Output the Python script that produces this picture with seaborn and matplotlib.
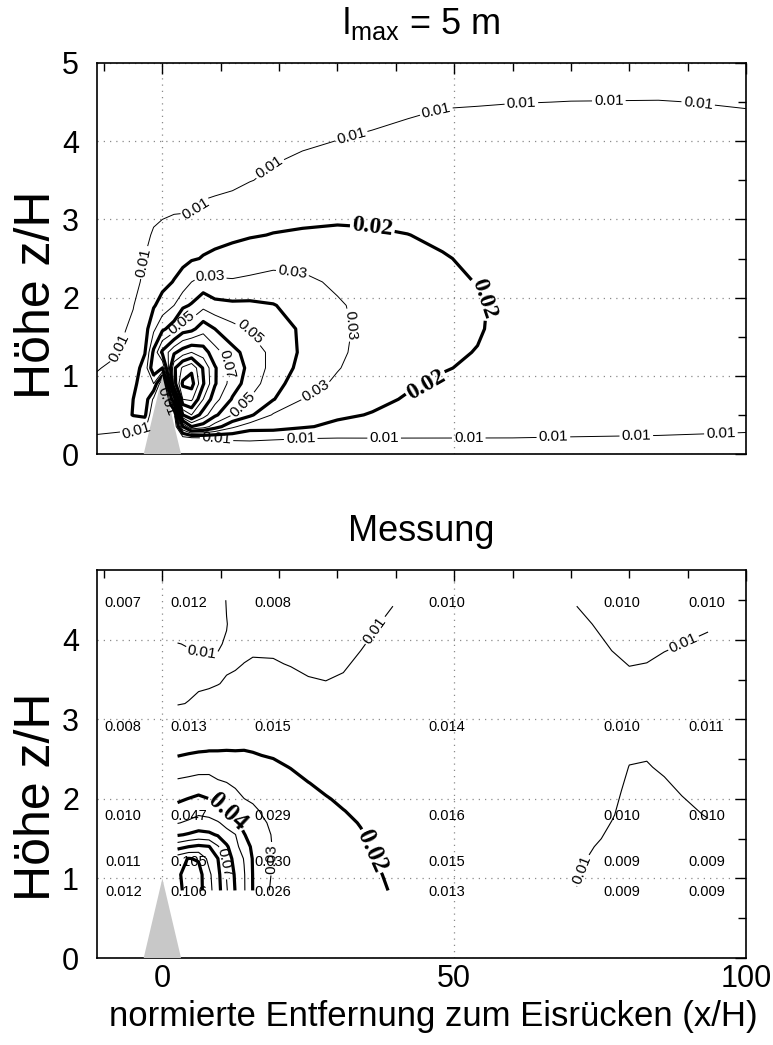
import numpy as np
import matplotlib
matplotlib.use("Agg")
import matplotlib.pyplot as plt
import seaborn as sns
from matplotlib.ticker import MultipleLocator

# ---------------- top panel: model field, concentration in 1/1000 ----------------
top_x = [-11.2, -8, -5, -3, -1.5, 0, 2, 3.5, 5, 7, 9, 12, 15, 19, 24, 30, 36, 42, 48, 54, 60, 70, 85, 100]
top_z = [0, 0.1, 0.2, 0.35, 0.5, 0.7, 0.9, 1.1, 1.3, 1.6, 1.9, 2.2, 2.5, 2.8, 3.1, 3.5, 4.0, 4.5, 5.0]
top_profiles = [
    [2, 6, 9.5, 11, 11.5, 11.5, 11, 9.7, 9, 8, 7, 6.5, 6, 5.5, 5, 4.5, 4, 3.5, 3],
    [2, 5, 8.5, 11.5, 13, 13.5, 13, 11, 9.5, 8.5, 7.5, 7, 6.5, 6, 5.5, 5, 4.5, 3.5, 3],
    [1, 3, 6, 12, 20.5, 20, 17, 15, 13, 11, 9.8, 8.5, 7.5, 6.5, 6, 5.5, 4.5, 4, 3],
    [0, 2, 6, 12, 22, 26, 27, 24, 19.5, 16, 13, 11, 10.1, 9, 8, 6.5, 5, 4, 3],
    [0, 0, 0, 0, 0, 8, 30, 48, 42, 28, 19, 15, 12.5, 10.5, 9, 7, 5, 4, 3],
    [0, 0, 0, 0, 0, 0, 0, 40, 62, 38, 24, 17, 14, 11, 9.5, 7, 5, 4, 3],
    [0, 0, 0, 0, 5, 50, 95, 98, 78, 45, 30, 20.5, 16, 13, 9.6, 7, 5, 4, 3],
    [0, 1, 5, 40, 80, 110, 122, 112, 85, 55, 38, 24, 17.5, 13.5, 9.7, 7, 5, 4, 3],
    [0.5, 2, 7, 60, 90, 112, 124, 118, 90, 57, 41, 30, 19, 15, 9.8, 7, 5, 4, 3],
    [1, 3, 8, 55, 75, 90, 101, 99, 85, 66, 47, 34, 20.5, 17, 11.5, 7.5, 5.5, 4.5, 3.5],
    [2, 4, 9, 45, 62, 74, 81, 81, 74, 60, 43, 32, 22, 17, 12, 8, 6, 4.5, 4],
    [3, 5, 12, 32, 50, 59, 65, 67, 63, 53, 42, 31, 24, 18, 13, 8.5, 6.5, 5, 4],
    [3, 6, 12, 24, 42, 49.5, 55, 57, 56, 49, 42, 32, 25, 19.3, 14, 9.8, 7.5, 6, 4.5],
    [3, 6, 11, 24, 29, 40.5, 44, 46.5, 47, 45, 40.5, 33, 27, 20.3, 17, 11, 8.5, 6.5, 5],
    [3, 6, 10.2, 21, 25, 30, 34, 37, 38.5, 38.5, 36, 32, 27, 20.8, 18, 13, 9, 7, 5],
    [3, 6, 9.8, 18, 21.5, 25, 28.5, 30.5, 31.5, 32, 31, 28.5, 25.5, 21.5, 18, 14.5, 10.1, 7, 5],
    [4, 7, 9.9, 15, 19.5, 22, 24, 25.5, 26.5, 27, 27, 26, 24, 21, 18, 15, 11, 7.5, 5.5],
    [4, 7, 9.9, 14, 16.5, 19.3, 21, 22.5, 23.5, 24, 24, 23.5, 22, 20.1, 18, 15.5, 12, 8.5, 6.5],
    [4, 7, 9.9, 13.5, 15.5, 17.5, 19.3, 20.3, 21, 22, 22, 21.5, 20.4, 19, 17, 15, 12.5, 9.5, 7.5],
    [4, 7, 9.9, 13, 15, 17, 18.5, 19.3, 19.8, 20.5, 20.7, 19.8, 19, 17.5, 16, 14.5, 12.5, 9.7, 8],
    [4, 7, 9.9, 12.5, 14.5, 16, 17, 17.5, 18, 18, 18, 17.5, 17, 16, 15, 14, 12.5, 9.9, 8],
    [4, 7, 9.7, 12, 13.5, 15, 16, 16.5, 16.5, 16.5, 16, 16, 15.5, 15, 14.5, 13.5, 12, 10.05, 8],
    [5, 7, 9.5, 11.5, 12.5, 13.5, 14.5, 15, 15, 15, 15, 15, 15, 14.5, 14, 13, 11.5, 10.1, 8],
    [5, 7, 9, 11, 12, 13, 14, 14, 14, 14, 14, 14, 14, 13, 13, 12, 11, 9.8, 7],
]

# ---------------- bottom panel: measurement (interpolated field as in the figure) ----------------
meas_left_x = [2.6, 4.5, 6.2, 8.0, 9.5, 11, 12.5, 14, 15.5, 17, 19, 22, 25, 28, 31, 34, 37, 39.5]
meas_left_z = [0.85, 1.05, 1.25, 1.4, 1.55, 1.7, 1.85, 2.0, 2.2, 2.4, 2.6, 2.8, 3.0, 3.2, 3.45, 3.7, 3.95, 4.2, 4.5]
meas_left_profiles = [
    [97, 98, 96, 76, 59, 49.5, 43.5, 38.5, 32, 24.5, 18, 15, 12, 9.8, 9.3, 9.5, 9.95, 11, 12],
    [104, 105, 100.5, 80, 61, 51.5, 45.5, 40.3, 33, 25.5, 19, 15.5, 12.5, 10.1, 9.4, 9.6, 10.1, 11, 12],
    [104, 104, 99, 82, 63, 54, 47.5, 42, 34, 26.5, 19.7, 16, 13, 10.6, 9.6, 9.75, 10.2, 11, 12],
    [93, 92, 87, 80.5, 62, 53, 46.5, 40.1, 33.5, 27, 20.1, 16.2, 13.3, 10.9, 9.7, 9.8, 10.15, 11, 11.5],
    [84, 83, 80.2, 71, 59, 51, 43, 37.5, 31, 26.5, 20.1, 16.5, 13.8, 11.5, 9.9, 9.85, 10.1, 10.9, 11],
    [71, 69.5, 66, 61.5, 53.5, 47, 40.2, 35.5, 30.2, 25.5, 20.2, 16.8, 14, 12, 10.3, 9.6, 9.9, 10.05, 9.9],
    [59.5, 58.5, 56, 53, 50.3, 42, 36.5, 33, 28.5, 24.5, 20.1, 17, 14.2, 12.3, 10.8, 9.6, 9.5, 9.5, 9],
    [51, 50.8, 49.5, 45, 40.5, 37, 33.5, 30.1, 27, 23.5, 20.2, 17, 14.5, 12.7, 11.2, 10.05, 9, 8.8, 8.6],
    [39.8, 39.7, 39.3, 38, 36, 34, 31.5, 29, 26, 23, 19.8, 17, 14.7, 13, 11.5, 10.4, 9.2, 8.6, 8.4],
    [33, 33, 32.8, 32.5, 32, 31, 29.5, 27.5, 25, 22, 19.3, 16.8, 14.7, 13, 11.6, 10.4, 9.1, 8.5, 8.2],
    [28.5, 29.3, 29.6, 29.7, 29.5, 28.8, 27.8, 26.3, 24, 21.3, 18.9, 16.6, 14.6, 13, 11.5, 10.3, 9.2, 8.5, 8.0],
    [26.5, 26.8, 27, 27, 26.8, 26.2, 25.2, 24, 22, 19.8, 17.8, 16, 14.3, 12.8, 11.2, 9.8, 8.9, 8.3, 8],
    [25, 25.2, 25.3, 25.2, 24.8, 24, 23, 21.8, 20.1, 18.5, 17, 15.5, 13.8, 12.3, 10.4, 9.3, 8.9, 8.6, 8.5],
    [24, 24, 23.9, 23.6, 23, 22.3, 21.4, 20.3, 19, 17.6, 16.2, 14.8, 13.3, 11.8, 10.1, 9.4, 9.2, 9.1, 9],
    [23, 22.9, 22.5, 22, 21.4, 20.8, 20.1, 19.3, 18.2, 17, 15.8, 14.5, 13.2, 11.8, 10.5, 9.6, 9.4, 9.3, 9.2],
    [22, 21.7, 21.2, 20.7, 20.3, 19.8, 19.2, 18.6, 17.8, 16.8, 15.8, 14.8, 13.8, 12.8, 11.6, 10.6, 9.7, 9.4, 9.2],
    [20.8, 20.3, 19.7, 19.3, 19, 18.6, 18.1, 17.6, 17, 16.3, 15.6, 14.9, 14.2, 13.5, 12.6, 11.7, 10.8, 9.95, 9.4],
    [19.6, 19.2, 18.8, 18.5, 18.2, 17.9, 17.5, 17.1, 16.6, 16.1, 15.6, 15, 14.4, 13.8, 13, 12.2, 11.4, 10.6, 9.8],
]
meas_right_x = [71, 74, 77, 80, 83, 86, 89, 93.5]
meas_right_z = [0.85, 1.2, 1.5, 1.8, 2.1, 2.4, 2.7, 3.0, 3.3, 3.6, 3.9, 4.2, 4.5]
meas_right_profiles = [
    [9.95, 10.3, 10.5, 10.6, 10.7, 10.7, 10.7, 10.6, 10.5, 10.4, 10.3, 10.15, 9.95],
    [9.4, 9.6, 10.2, 10.4, 10.5, 10.6, 10.6, 10.5, 10.4, 10.3, 10.15, 9.98, 9.8],
    [9.2, 9.4, 9.7, 10.1, 10.3, 10.4, 10.4, 10.35, 10.25, 10.15, 9.98, 9.8, 9.7],
    [9.0, 9.1, 9.3, 9.5, 9.75, 9.98, 10.2, 10.25, 10.15, 10.03, 9.9, 9.8, 9.7],
    [9.0, 9.1, 9.3, 9.5, 9.7, 9.95, 10.15, 10.2, 10.12, 10.06, 9.9, 9.8, 9.7],
    [9.0, 9.1, 9.3, 9.6, 9.85, 10.1, 10.2, 10.25, 10.2, 10.1, 9.98, 9.85, 9.75],
    [9.0, 9.2, 9.5, 9.8, 10.05, 10.2, 10.3, 10.3, 10.25, 10.15, 10.02, 9.9, 9.8],
    [9.0, 9.3, 9.7, 10.05, 10.3, 10.4, 10.5, 10.5, 10.4, 10.3, 10.1, 9.95, 9.9],
]

# measured values written in the lower panel
station_x = [-6.7, 4.5, 18.9, 48.8, 78.8, 93.2]
station_z = [4.46, 2.9, 1.78, 1.21, 0.83]
station_values = [
    [0.007, 0.012, 0.008, 0.010, 0.010, 0.010],
    [0.008, 0.013, 0.015, 0.014, 0.010, 0.011],
    [0.010, 0.047, 0.029, 0.016, 0.010, 0.010],
    [0.011, 0.105, 0.030, 0.015, 0.009, 0.009],
    [0.012, 0.106, 0.026, 0.013, 0.009, 0.009],
]

# ice ridge outline
ridge_x = [-3.2, 0.0, 3.2]
ridge_z = [0.0, 1.0, 0.0]

thin_levels = [0.01, 0.03, 0.05, 0.07, 0.09, 0.11]
thick_levels = [0.02, 0.04, 0.06, 0.08, 0.10, 0.12]

# ---------------- style ----------------
sns.set_theme(style="white", rc={
    "axes.edgecolor": "black", "axes.linewidth": 1.2,
    "text.color": "black", "axes.labelcolor": "black",
    "xtick.color": "black", "ytick.color": "black",
})
plt.rcParams['font.family'] = ['Liberation Sans', 'DejaVu Sans']
plt.rcParams['mathtext.fontset'] = 'custom'
plt.rcParams['mathtext.rm'] = 'Liberation Sans'
plt.rcParams['mathtext.it'] = 'Liberation Sans:italic'

fig = plt.figure(figsize=(7.73, 10.45), dpi=100)
W, H = 773.0, 1045.0
ax1 = fig.add_axes([97 / W, 1 - 454 / H, 649 / W, 391 / H])
ax2 = fig.add_axes([97 / W, 1 - 958 / H, 649 / W, 388 / H])


def style_axes(ax, ytop, show_x):
    ax.set_xlim(-11.2, 100)
    ax.set_ylim(0, ytop)
    ax.xaxis.set_major_locator(MultipleLocator(50))
    ax.xaxis.set_minor_locator(MultipleLocator(10))
    ax.yaxis.set_major_locator(MultipleLocator(1))
    ax.yaxis.set_minor_locator(MultipleLocator(0.5))
    ax.tick_params(which='both', direction='in', top=True, right=True,
                   width=1.0, labelsize=22)
    ax.tick_params(which='major', length=8)
    ax.tick_params(which='minor', length=6)
    ax.tick_params(axis='y', pad=13)
    ax.tick_params(axis='x', pad=4)
    if not show_x:
        ax.tick_params(axis='x', labelbottom=False)
    ax.set_axisbelow(True)
    ax.grid(True, which='major', color='#8a8a8a', linestyle=(0, (1, 4)), linewidth=0.9)
    for s in ax.spines.values():
        s.set_color('black')
        s.set_linewidth(1.2)
    ax.set_ylabel('Höhe z/H', fontsize=36)


def draw_level(ax, X, Z, C, level, lw, positions=None, size=11, bold=False):
    cs = ax.contour(X, Z, C, levels=[level], colors='black', linewidths=lw,
                    linestyles='solid', zorder=2)
    if positions:
        rc = ({'font.family': ['Liberation Serif'], 'font.weight': 'bold'} if bold
              else {'font.family': ['Liberation Sans'], 'font.weight': 'normal'})
        with plt.rc_context(rc):
            ax.clabel(cs, manual=positions, inline=True, inline_spacing=2,
                      fmt='%.2f', fontsize=size, colors='black')
    return cs


# ---------------- top panel ----------------
style_axes(ax1, 5, False)
Xt, Zt = np.meshgrid(top_x, top_z)
Ct = np.array(top_profiles).T / 1000.0
top_label_pos = {
    0.01: [(-4.4, 0.38), (-7.3, 1.35), (-3.2, 2.45), (6, 3.12), (19, 3.6),
           (32.5, 4.03), (47, 4.37), (61.5, 4.5), (76.5, 4.53), (91.8, 4.48),
           (9.3, 0.2), (23.7, 0.2), (38, 0.2), (52.5, 0.21), (67, 0.22),
           (81.2, 0.24), (95.7, 0.27), (1.7, 0.73)],
    0.03: [(8, 2.22), (22.3, 2.3), (32.3, 1.65), (26.3, 0.8)],
    0.05: [(2.8, 1.7), (15.4, 1.58), (14.2, 0.6)],
    0.07: [(11, 1.14)],
    0.02: [(36, 2.9), (55.5, 2.0), (45, 0.92)],
}
for lev in thin_levels:
    draw_level(ax1, Xt, Zt, Ct, lev, 0.7, top_label_pos.get(lev), 11)
for lev in thick_levels:
    draw_level(ax1, Xt, Zt, Ct, lev, 2.3, top_label_pos.get(lev), 17, bold=True)
ax1.fill(ridge_x, ridge_z, color='#c8c8c8', lw=0, zorder=2.6)

ax1.set_title('l$_{\\mathregular{max}}$ = 5 m', fontsize=26, pad=21)
ax1.yaxis.set_label_coords(-0.057, 0.407)

# ---------------- bottom panel ----------------
style_axes(ax2, 4.88, True)
Xl, Zl = np.meshgrid(meas_left_x, meas_left_z)
Cl = np.array(meas_left_profiles).T / 1000.0
bottom_label_pos = {
    0.01: [(6.7, 3.87), (36.3, 4.13)],
    0.03: [(18.3, 1.25)],
    0.07: [(10.9, 1.2)],
    0.04: [(11, 1.82)],
    0.02: [(36, 1.35)],
}
for lev in thin_levels[:5]:
    draw_level(ax2, Xl, Zl, Cl, lev, 0.8, bottom_label_pos.get(lev), 11)
for lev in thick_levels[:5]:
    draw_level(ax2, Xl, Zl, Cl, lev, 2.3, bottom_label_pos.get(lev), 18, bold=True)
Xr, Zr = np.meshgrid(meas_right_x, meas_right_z)
Cr = np.array(meas_right_profiles).T / 1000.0
draw_level(ax2, Xr, Zr, Cr, 0.01, 0.8, [(89.3, 3.96), (72.2, 1.1)], 11)
ax2.fill(ridge_x, ridge_z, color='#c8c8c8', lw=0, zorder=2.6)

for zi, row in zip(station_z, station_values):
    for xi, v in zip(station_x, row):
        ax2.text(xi, zi, f"{v:.3f}", ha='center', va='center', fontsize=10.5, zorder=4)

ax2.set_title('Messung', fontsize=26, pad=21)
ax2.yaxis.set_label_coords(-0.057, 0.415)
ax2.set_xlabel('normierte Entfernung zum Eisrücken (x/H)', fontsize=25)
ax2.xaxis.set_label_coords(0.518, -0.109)

fig.savefig('out.png', dpi=100)
